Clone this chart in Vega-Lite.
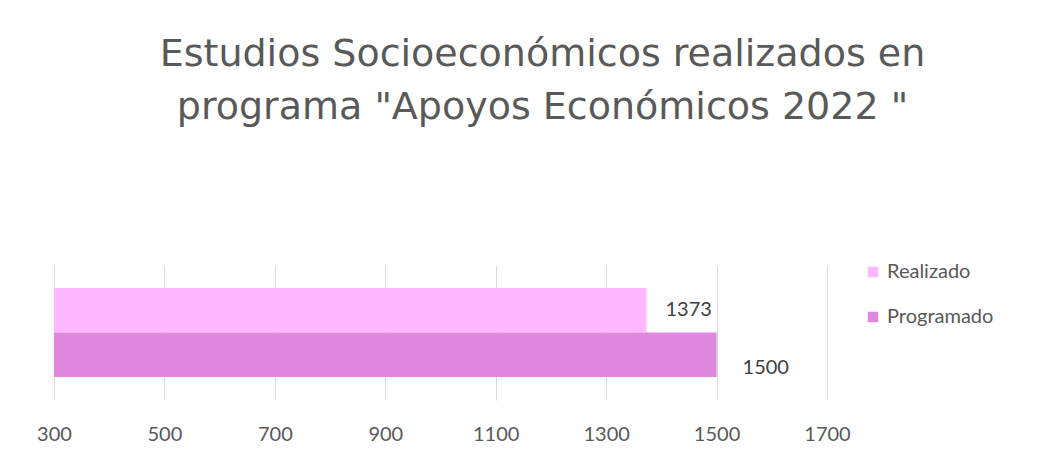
{
  "$schema": "https://vega.github.io/schema/vega-lite/v6.json",
  "width": 773,
  "height": 135,
  "autosize": {"type": "none"},
  "padding": {"left": 54, "top": 265, "right": 220, "bottom": 76},
  "background": "white",
  "view": {"stroke": null},
  "title": {
    "text": ["Estudios Socioeconómicos realizados en", "programa \"Apoyos Económicos  2022 \""],
    "font": "DejaVu Sans",
    "fontSize": 38,
    "fontWeight": "normal",
    "color": "#595959",
    "anchor": "middle",
    "dx": 102,
    "lineHeight": 53,
    "baseline": "alphabetic",
    "offset": 105
  },
  "data": {
    "values": [
      {"serie": "Realizado", "valor": 1373},
      {"serie": "Programado", "valor": 1500}
    ]
  },
  "encoding": {
    "y": {
      "field": "serie",
      "type": "nominal",
      "sort": ["Realizado", "Programado"],
      "scale": {"paddingInner": 0, "paddingOuter": 0.52},
      "axis": null
    }
  },
  "layer": [
    {
      "mark": {"type": "bar"},
      "encoding": {
        "x": {
          "field": "valor",
          "type": "quantitative",
          "scale": {"domain": [300, 1700], "zero": false, "nice": false},
          "axis": {
            "values": [300, 500, 700, 900, 1100, 1300, 1500, 1700],
            "format": "d",
            "title": null,
            "grid": true,
            "gridColor": "#D9D9D9",
            "gridWidth": 1,
            "domain": false,
            "ticks": false,
            "labelFont": "Lato",
            "labelFontSize": 20,
            "labelColor": "#595959",
            "labelPadding": 24,
            "labelFlush": false
          }
        },
        "x2": {"datum": 300},
        "color": {
          "field": "serie",
          "type": "nominal",
          "scale": {"domain": ["Realizado", "Programado"], "range": ["#FFB7FF", "#E088E0"]},
          "legend": {
            "title": null,
            "orient": "none",
            "legendX": 809,
            "legendY": -3,
            "symbolType": "square",
            "symbolSize": 110,
            "symbolStrokeWidth": 0,
            "labelFont": "Lato",
            "labelFontSize": 20,
            "labelColor": "#595959",
            "labelOffset": 4,
            "rowPadding": 25
          }
        }
      }
    },
    {
      "transform": [{"filter": "datum.serie === 'Realizado'"}],
      "mark": {"type": "text", "align": "left", "baseline": "middle", "dx": 19, "font": "Lato", "fontSize": 20, "color": "#404040"},
      "encoding": {
        "x": {"field": "valor", "type": "quantitative"},
        "text": {"field": "valor", "type": "quantitative", "format": "d"}
      }
    },
    {
      "transform": [{"filter": "datum.serie === 'Programado'"}],
      "mark": {"type": "text", "align": "left", "baseline": "middle", "dx": 26, "dy": 13, "font": "Lato", "fontSize": 20, "color": "#404040"},
      "encoding": {
        "x": {"field": "valor", "type": "quantitative"},
        "text": {"field": "valor", "type": "quantitative", "format": "d"}
      }
    }
  ]
}
